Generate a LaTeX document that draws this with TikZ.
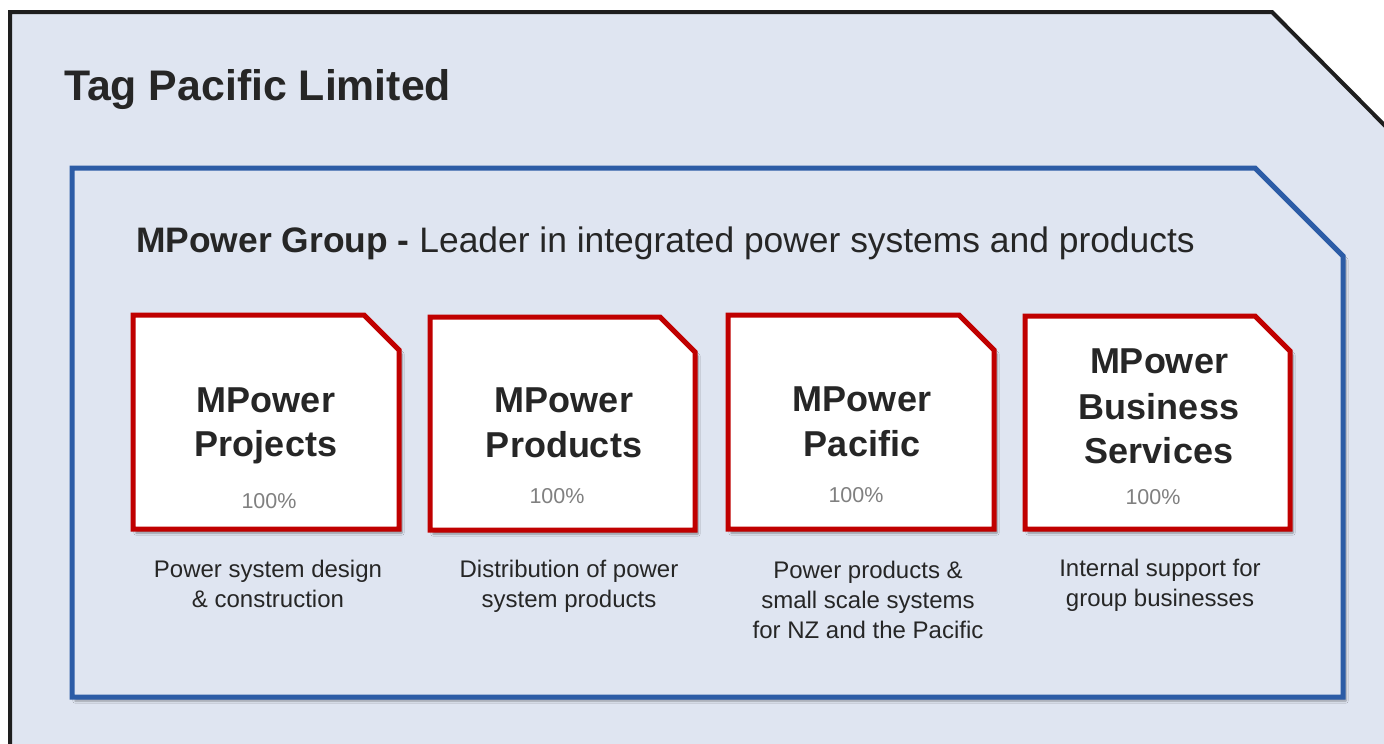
\documentclass[tikz,border=0pt]{standalone}
\usepackage{fontspec}
\setmainfont{Liberation Sans}
\usetikzlibrary{shadows.blur}
\definecolor{bgfill}{HTML}{DFE5F1}
\definecolor{frameblack}{HTML}{1E1E1E}
\definecolor{groupblue}{HTML}{2C5CA6}
\definecolor{unitred}{HTML}{C00000}
\definecolor{txt}{HTML}{262626}
\definecolor{pct}{HTML}{808080}
\tikzset{
  outerframe/.style={draw=frameblack, line width=4pt, fill=bgfill},
  groupframe/.style={draw=groupblue, line width=5pt, fill=bgfill,
    blur shadow={shadow xshift=3pt, shadow yshift=-4pt, shadow blur steps=6, shadow opacity=35}},
  unitbox/.style={draw=unitred, line width=5pt, fill=white,
    blur shadow={shadow xshift=3pt, shadow yshift=-4pt, shadow blur steps=6, shadow opacity=40}},
  bigtitle/.style={font=\fontsize{42.8}{48}\selectfont\bfseries, text=txt, inner sep=0pt, anchor=base west},
  grouptitle/.style={font=\fontsize{35.4}{42}\selectfont, text=txt, inner sep=0pt, anchor=base west},
  unitname/.style={font=\fontsize{36}{44}\selectfont\bfseries, text=txt, inner sep=0pt, anchor=base},
  unitpct/.style={font=\fontsize{21.5}{26}\selectfont, text=pct, inner sep=0pt, anchor=base},
  unitdesc/.style={font=\fontsize{24}{30}\selectfont, text=txt, inner sep=0pt, anchor=base},
}
\begin{document}
\begin{tikzpicture}[x=1pt,y=-1pt]
\useasboundingbox (0,0) rectangle (1384,744);
\clip (0,0) rectangle (1384,744);
% outer frame
\path[outerframe] (10,770) -- (10,12) -- (1272,12) -- (1420,161) -- (1420,770) -- cycle;
% group frame
\path[groupframe] (72,168) -- (1255,168) -- (1343,256) -- (1343,697) -- (72,697) -- cycle;
% unit boxes
\path[unitbox] (133,315) -- (364,315) -- (399,350) -- (399,529) -- (133,529) -- cycle;
\path[unitbox] (430,317) -- (660,317) -- (695,352) -- (695,530) -- (430,530) -- cycle;
\path[unitbox] (728,315) -- (959,315) -- (994,350) -- (994,529) -- (728,529) -- cycle;
\path[unitbox] (1025,316) -- (1255,316) -- (1290,351) -- (1290,529) -- (1025,529) -- cycle;
% titles
\node[bigtitle] (tag) at (64,100) {Tag Pacific Limited};
\node[grouptitle] (grp) at (136,252) {\textbf{MPower Group -} Leader in integrated power systems and products};
% unit 1
\node[unitname] (u1a) at (266,412) {MPower};
\node[unitname] (u1b) at (266,456) {Projects};
\node[unitpct] (u1p) at (269,508) {100\%};
\node[unitdesc] (d1a) at (268,577) {Power system design};
\node[unitdesc] (d1b) at (268,607) {\& construction};
% unit 2
\node[unitname] (u2a) at (564,412) {MPower};
\node[unitname] (u2b) at (564,457) {Products};
\node[unitpct] (u2p) at (557,503) {100\%};
\node[unitdesc] (d2a) at (569,577) {Distribution of power};
\node[unitdesc] (d2b) at (569,607) {system products};
% unit 3
\node[unitname] (u3a) at (862,411) {MPower};
\node[unitname] (u3b) at (862,456) {Pacific};
\node[unitpct] (u3p) at (856,502) {100\%};
\node[unitdesc] (d3a) at (868,578) {Power products \&};
\node[unitdesc] (d3b) at (868,608) {small scale systems};
\node[unitdesc] (d3c) at (868,638) {for NZ and the Pacific};
% unit 4
\node[unitname] (u4a) at (1159,373) {MPower};
\node[unitname] (u4b) at (1159,419) {Business};
\node[unitname] (u4c) at (1159,463) {Services};
\node[unitpct] (u4p) at (1153,504) {100\%};
\node[unitdesc] (d4a) at (1160,576) {Internal support for};
\node[unitdesc] (d4b) at (1160,606) {group businesses};
\end{tikzpicture}
\end{document}
